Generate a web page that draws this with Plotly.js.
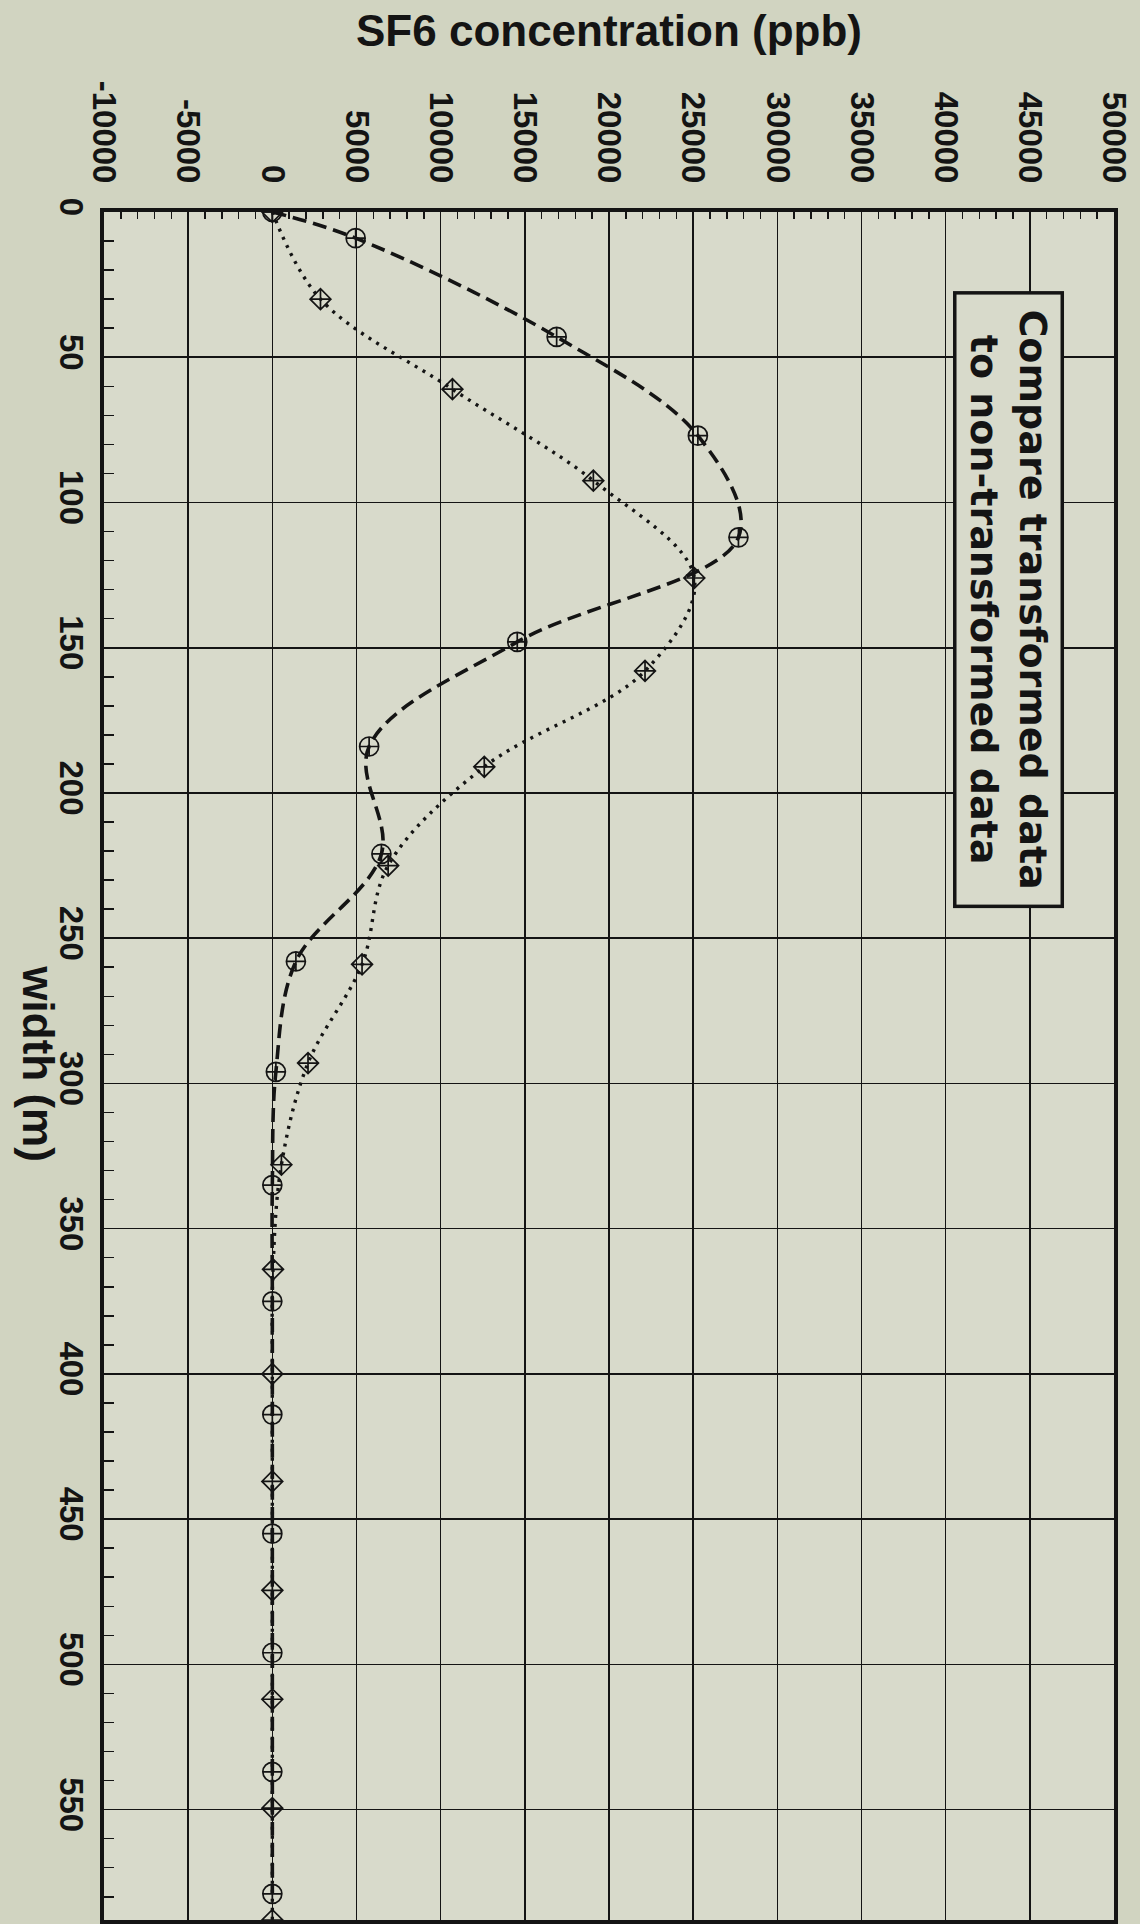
<!DOCTYPE html>
<html><head><meta charset="utf-8">
<script src="https://cdn.plot.ly/plotly-3.0.1.min.js"></script>
<style>html,body{margin:0;padding:0;background:#d1d4c1}</style>
</head><body><div id="chart" style="width:1140px;height:1924px"></div>
<script>
// width (m) and SF6 concentration (ppb)
const widthTransformed = [0, 9, 43, 77, 112, 148, 184, 221, 258, 296, 335, 375, 414, 455, 496, 537, 579];
const concTransformed  = [0, 4950, 16890, 25280, 27690, 14550, 5750, 6480, 1400, 210, 0, 0, 0, 0, 0, 0, 0];
const widthRaw = [0, 30, 61, 92.5, 126, 158, 191, 225, 259, 293, 328, 364, 400, 437, 474.5, 512, 549.5, 588];
const concRaw  = [0, 2860, 10700, 19070, 25070, 22140, 12590, 6880, 5330, 2120, 540, 40, 0, 0, 0, 0, 0, 0];

const concTicks = [-10000, -5000, 0, 5000, 10000, 15000, 20000, 25000, 30000, 35000, 40000, 45000, 50000];
const concTickText = ["-10000", "-5000", "0", "5000", "10000", "15000", "20000", "25000", "30000", "35000", "40000", "45000", "50000"];
const widthTicks = [0, 50, 100, 150, 200, 250, 300, 350, 400, 450, 500, 550];
const widthTickText = ["0", "50", "100", "150", "200", "250", "300", "350", "400", "450", "500", "550"];

const xTitle = "SF6 concentration (ppb)";
const yTitle = "width (m)";
const boxText = "Compare transformed data<br>to non-transformed data";

const ink = '#141414';
const plotBg = '#d8dacb';
const paperBg = '#d1d4c1';
const mainFont = 'Liberation Sans, Arial, Helvetica, sans-serif';

const traces = [
  {
    x: concTransformed, y: widthTransformed, type: 'scatter', mode: 'lines+markers',
    name: 'transformed',
    line: {color: ink, width: 3.6, dash: '14px,7px', shape: 'spline', smoothing: 1},
    marker: {symbol: 'circle-cross-open', size: 19, color: ink, line: {width: 1.7, color: ink}}
  },
  {
    x: concRaw, y: widthRaw, type: 'scatter', mode: 'lines+markers',
    name: 'non-transformed',
    line: {color: ink, width: 3.4, dash: '3px,6px', shape: 'spline', smoothing: 1},
    marker: {symbol: 'diamond-cross-open', size: 16, color: ink, line: {width: 1.7, color: ink}}
  }
];

const layout = {
  width: 1140, height: 1924,
  margin: {l: 104, r: 26, t: 212, b: 4, pad: 0},
  paper_bgcolor: paperBg, plot_bgcolor: plotBg,
  showlegend: false,
  font: {family: mainFont, color: ink},
  xaxis: {
    side: 'top', range: [-10000, 50000],
    tickmode: 'array', tickvals: concTicks, ticktext: concTickText,
    tickangle: 90, tickfont: {family: mainFont, size: 33, weight: 'bold', color: ink},
    ticklabelstandoff: 13,
    showgrid: true, gridcolor: ink, gridwidth: 1.6, zeroline: false,
    showline: true, linecolor: ink, linewidth: 4, mirror: true,
    ticks: 'inside', ticklen: 10, tickwidth: 1.5, tickcolor: ink,
    minor: {tick0: 0, dtick: 1000, ticks: 'inside', ticklen: 7, tickwidth: 1.5, tickcolor: ink, showgrid: false},
    title: {text: xTitle, font: {family: mainFont, size: 44, weight: 'bold', color: ink}, standoff: 21},
    automargin: false
  },
  yaxis: {
    range: [588, 0],
    tickmode: 'array', tickvals: widthTicks, ticktext: widthTickText,
    tickangle: 90, tickfont: {family: mainFont, size: 33, weight: 'bold', color: ink},
    ticklabelstandoff: 0,
    showgrid: true, gridcolor: ink, gridwidth: 1.6, zeroline: false,
    showline: true, linecolor: ink, linewidth: 4, mirror: true,
    ticks: 'inside', ticklen: 10, tickwidth: 1.5, tickcolor: ink,
    minor: {tick0: 0, dtick: 10, ticks: 'inside', ticklen: 10, tickwidth: 1.5, tickcolor: ink, showgrid: false},
    automargin: false
  },
  annotations: [
    {
      text: yTitle, xref: 'paper', yref: 'paper', x: -0.0644, y: 0.501,
      xanchor: 'center', yanchor: 'middle', textangle: 90, showarrow: false,
      font: {family: mainFont, size: 44, weight: 'bold', color: ink}
    },
    {
      text: boxText, xref: 'paper', yref: 'paper', x: 0.896, y: 0.7728,
      xanchor: 'center', yanchor: 'middle', textangle: 90, showarrow: false,
      font: {family: 'DejaVu Sans, sans-serif', size: 38, weight: 'bold', color: ink},
      bordercolor: ink, borderwidth: 3.5, borderpad: 2, bgcolor: plotBg,
      width: 606, height: 100, align: 'center'
    }
  ]
};

Plotly.newPlot('chart', traces, layout, {staticPlot: true, displayModeBar: false});
</script>
</body></html>
